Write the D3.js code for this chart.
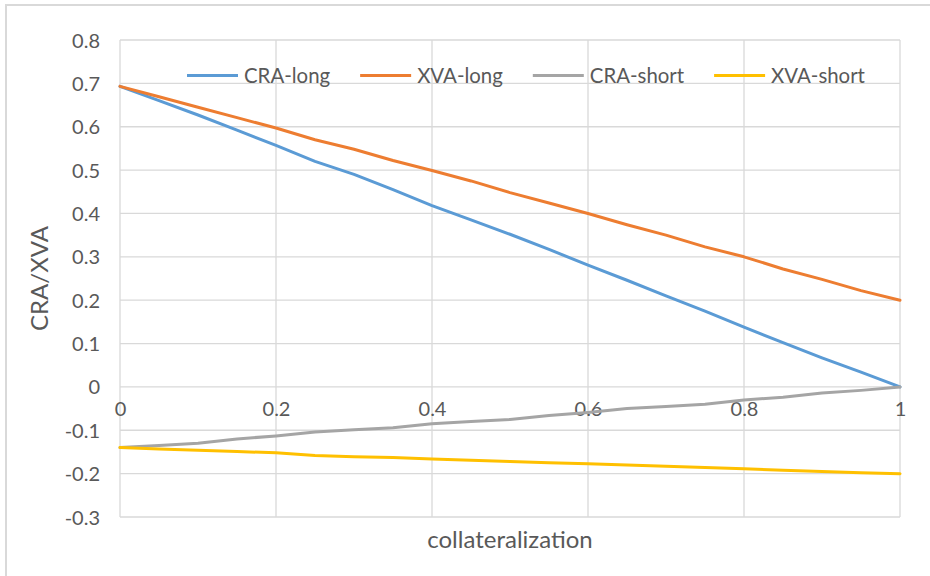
<!DOCTYPE html>
<html>
<head>
<meta charset="utf-8">
<script src="https://cdn.jsdelivr.net/npm/d3@7"></script>
<style>
  html, body { margin: 0; padding: 0; background: #fff; }
  svg { display: block; }
  text { font-family: Lato, "Liberation Sans", sans-serif; fill: #595959; }
</style>
</head>
<body>
<svg id="chart" width="930" height="576"></svg>
<script>
// ---- data ----
const xValues   = [0, 0.05, 0.1, 0.15, 0.2, 0.25, 0.3, 0.35, 0.4, 0.45, 0.5, 0.55, 0.6, 0.65, 0.7, 0.75, 0.8, 0.85, 0.9, 0.95, 1];
const craLong   = [0.693, 0.660, 0.627, 0.592, 0.557, 0.520, 0.490, 0.455, 0.418, 0.385, 0.352, 0.317, 0.281, 0.246, 0.210, 0.175, 0.138, 0.102, 0.067, 0.034, 0.000];
const xvaLong   = [0.693, 0.669, 0.645, 0.621, 0.597, 0.570, 0.548, 0.522, 0.499, 0.475, 0.448, 0.424, 0.400, 0.374, 0.350, 0.323, 0.300, 0.272, 0.248, 0.222, 0.200];
const craShort  = [-0.140, -0.135, -0.130, -0.120, -0.113, -0.104, -0.099, -0.094, -0.085, -0.080, -0.075, -0.066, -0.059, -0.050, -0.045, -0.040, -0.030, -0.024, -0.014, -0.008, 0.000];
const xvaShort  = [-0.140, -0.143, -0.146, -0.149, -0.152, -0.158, -0.161, -0.163, -0.166, -0.169, -0.172, -0.175, -0.177, -0.180, -0.183, -0.186, -0.189, -0.192, -0.195, -0.198, -0.200];
const seriesNames  = ["CRA-long", "XVA-long", "CRA-short", "XVA-short"];
const seriesValues = [craLong, xvaLong, craShort, xvaShort];
const seriesColors = ["#5b9bd5", "#ed7d31", "#a5a5a5", "#ffc000"];
const xTicks = [0, 0.2, 0.4, 0.6, 0.8, 1];
const yTicks = [-0.3, -0.2, -0.1, 0, 0.1, 0.2, 0.3, 0.4, 0.5, 0.6, 0.7, 0.8];
const xTitle = "collateralization";
const yTitle = "CRA/XVA";

// ---- layout ----
const svg = d3.select("#chart");
const plot = { left: 120, right: 900, top: 40, bottom: 517 };
const x = d3.scaleLinear().domain([0, 1]).range([plot.left, plot.right]);
const y = d3.scaleLinear().domain([-0.3, 0.8]).range([plot.bottom, plot.top]);
const fmt = d => String(+d.toFixed(2));   // plain hyphen for negatives, like the source

// outer chart border
svg.append("rect")
  .attr("x", 6).attr("y", 5).attr("width", 940).attr("height", 600)
  .attr("fill", "none").attr("stroke", "#d9d9d9").attr("stroke-width", 2);

// gridlines
const grid = svg.append("g").attr("stroke", "#d9d9d9").attr("stroke-width", 1.3);
grid.selectAll(".h").data(yTicks).join("line")
  .attr("x1", plot.left).attr("x2", plot.right)
  .attr("y1", d => y(d)).attr("y2", d => y(d));
grid.selectAll(".v").data(xTicks).join("line")
  .attr("y1", plot.top).attr("y2", plot.bottom)
  .attr("x1", d => x(d)).attr("x2", d => x(d));

// y axis labels
const yAxis = svg.append("g")
  .attr("transform", `translate(${plot.left - 20},0)`)
  .call(d3.axisLeft(y).tickValues(yTicks).tickSize(0).tickPadding(0).tickFormat(fmt));
yAxis.select(".domain").remove();
yAxis.selectAll("text").attr("font-size", 20).attr("font-family", "Lato, sans-serif").attr("fill", "#595959").attr("dy", "0.35em");

// x axis labels, sitting just under the zero line
const xAxis = svg.append("g")
  .attr("transform", `translate(0,${y(0) + 22})`)
  .call(d3.axisBottom(x).tickValues(xTicks).tickSize(0).tickPadding(0).tickFormat(fmt));
xAxis.select(".domain").remove();
xAxis.selectAll("text").attr("font-size", 20).attr("font-family", "Lato, sans-serif").attr("fill", "#595959").attr("dy", "0.35em");

// series lines
const line = d3.line().x((d, i) => x(xValues[i])).y(d => y(d));
svg.append("g").selectAll("path").data(seriesValues).join("path")
  .attr("d", d => line(d))
  .attr("fill", "none")
  .attr("stroke", (d, i) => seriesColors[i])
  .attr("stroke-width", 3)
  .attr("stroke-linejoin", "round")
  .attr("stroke-linecap", "round");

// axis titles
svg.append("text")
  .attr("x", (plot.left + plot.right) / 2).attr("y", 540)
  .attr("text-anchor", "middle").attr("dy", "0.35em")
  .attr("font-size", 24)
  .text(xTitle);
svg.append("text")
  .attr("transform", `translate(40,${(plot.top + plot.bottom) / 2}) rotate(-90)`)
  .attr("text-anchor", "middle").attr("dy", "0.35em")
  .attr("font-size", 24)
  .text(yTitle);

// legend
const legend = svg.append("g");
let lx = 187;
const ly = 75.5;
seriesNames.forEach((name, i) => {
  legend.append("line")
    .attr("x1", lx).attr("x2", lx + 51).attr("y1", ly).attr("y2", ly)
    .attr("stroke", seriesColors[i]).attr("stroke-width", 3);
  const t = legend.append("text")
    .attr("x", lx + 57).attr("y", ly).attr("dy", "0.35em")
    .attr("font-size", 20.4)
    .text(name);
  lx = lx + 57 + t.node().getComputedTextLength() + 30;
});
</script>
</body>
</html>
